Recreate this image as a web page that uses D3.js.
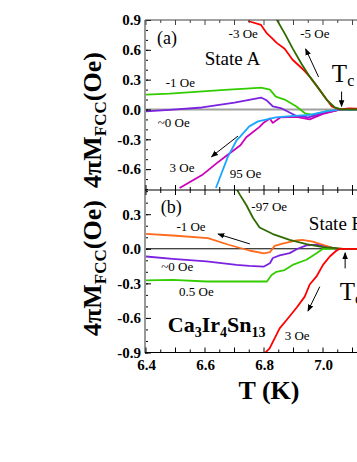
<!DOCTYPE html>
<html>
<head>
<meta charset="utf-8">
<script src="https://cdn.jsdelivr.net/npm/d3@7"></script>
<style>
  body { margin: 0; background: #fff; }
  text { font-family: "Liberation Serif", "Times New Roman", serif; }
</style>
</head>
<body>
<script>
// x axis
const xTicks = [6.4, 6.6, 6.8, 7.0];
const xTickLabels = ["6.4", "6.6", "6.8", "7.0"];

// y axes of the two panels
const yTicksA = [0.9, 0.6, 0.3, 0.0, -0.3, -0.6];
const yTickLabelsA = ["0.9", "0.6", "0.3", "0.0", "-0.3", "-0.6"];
const yTicksB = [0.3, 0.0, -0.3, -0.6, -0.9];
const yTickLabelsB = ["0.3", "0.0", "-0.3", "-0.6", "-0.9"];

// panel (a), State A : [T (K), 4piM (Oe)]
const aMinus1 = [[6.40,0.15],[6.48,0.16],[6.58,0.18],[6.68,0.20],[6.74,0.21],[6.79,0.22],[6.82,0.20],[6.84,0.13],[6.87,0.10],[6.91,0.03],[6.94,-0.04],[6.965,-0.055],[7.01,-0.02],[7.06,-0.005],[7.2,0]];
const aZero = [[6.40,-0.02],[6.48,-0.005],[6.59,0.02],[6.70,0.07],[6.79,0.12],[6.81,0.09],[6.83,0.03],[6.86,0.01],[6.91,-0.065],[6.95,-0.08],[7.00,-0.04],[7.06,0],[7.2,0]];
const aPlus3 = [[6.514,-0.79],[6.59,-0.66],[6.64,-0.54],[6.675,-0.46],[6.72,-0.36],[6.74,-0.28],[6.785,-0.175],[6.80,-0.13],[6.82,-0.09],[6.83,-0.135],[6.855,-0.08],[6.91,-0.075],[6.955,-0.10],[7.00,-0.045],[7.06,0],[7.2,0]];
const aPlus95 = [[6.637,-0.79],[6.677,-0.48],[6.707,-0.31],[6.72,-0.27],[6.75,-0.17],[6.78,-0.12],[6.81,-0.10],[6.84,-0.08],[6.89,-0.067],[6.955,-0.055],[7.01,-0.02],[7.06,0],[7.2,0]];
const aMinus3 = [[6.746,0.89],[6.79,0.85],[6.81,0.765],[6.826,0.72],[6.843,0.67],[6.87,0.61],[6.897,0.50],[6.93,0.41],[6.955,0.33],[6.983,0.22],[7.01,0.11],[7.03,0.03],[7.055,0],[7.09,0.01],[7.2,0]];
const aMinus5 = [[6.838,0.93],[6.87,0.765],[6.898,0.61],[6.927,0.46],[6.955,0.33],[6.983,0.22],[7.012,0.10],[7.04,0.02],[7.062,0],[7.2,0]];

// panel (b), State B
const bMinus1 = [[6.40,0.13],[6.49,0.115],[6.61,0.093],[6.68,0.035],[6.75,-0.015],[6.80,-0.04],[6.82,-0.03],[6.836,0.025],[6.863,0.045],[6.91,0.072],[6.93,0.078],[6.965,0.063],[7.00,0.035],[7.034,0.006],[7.057,0],[7.2,0]];
const bZero = [[6.40,-0.067],[6.49,-0.087],[6.605,-0.11],[6.707,-0.14],[6.75,-0.148],[6.80,-0.154],[6.82,-0.125],[6.83,-0.08],[6.853,-0.058],[6.887,-0.038],[6.914,0],[6.944,0.03],[6.978,0.035],[7.012,0.02],[7.046,0],[7.2,0]];
const bPlus05 = [[6.40,-0.275],[6.49,-0.27],[6.605,-0.284],[6.707,-0.284],[6.81,-0.284],[6.825,-0.23],[6.842,-0.2],[6.87,-0.185],[6.897,-0.14],[6.944,-0.095],[6.978,-0.038],[7.00,0],[7.2,0]];
const bMinus97 = [[6.705,0.53],[6.718,0.47],[6.74,0.38],[6.763,0.267],[6.785,0.185],[6.83,0.128],[6.887,0.078],[6.944,0.041],[7.00,0.015],[7.045,0.005],[7.07,0],[7.2,0]];
const bPlus3 = [[6.797,-0.92],[6.819,-0.865],[6.836,-0.777],[6.853,-0.69],[6.876,-0.62],[6.911,-0.51],[6.938,-0.415],[6.955,-0.31],[6.978,-0.24],[7.00,-0.14],[7.023,-0.067],[7.045,-0.017],[7.057,0],[7.2,0]];

const seriesA = [
  { data: aMinus1, color: "#33cc00" },
  { data: aZero, color: "#7b22e0" },
  { data: aPlus3, color: "#cc00bb" },
  { data: aPlus95, color: "#1aa6ff" },
  { data: aMinus3, color: "#ff0000" },
  { data: aMinus5, color: "#2f6b00" }
];
const seriesB = [
  { data: bPlus05, color: "#33cc00" },
  { data: bZero, color: "#7b22e0" },
  { data: bMinus1, color: "#ff6a1c" },
  { data: bMinus97, color: "#2f6b00" },
  { data: bPlus3, color: "#ff0000" }
];

// annotations: [text, T, value, font size]
const labelsA = [
  ["(a)", 6.437, 0.66, 18], ["State A", 6.599, 0.448, 19],
  ["-3 Oe", 6.680, 0.72, 13], ["-5 Oe", 6.923, 0.72, 13],
  ["-1 Oe", 6.467, 0.226, 13], ["~0 Oe", 6.440, -0.173, 13],
  ["3 Oe", 6.480, -0.626, 13], ["95 Oe", 6.684, -0.689, 13]
];
const labelsB = [
  ["(b)", 6.450, 0.311, 18], ["-97 Oe", 6.757, 0.328, 13],
  ["State B", 6.952, 0.163, 19], ["-1 Oe", 6.503, 0.157, 13],
  ["~0 Oe", 6.452, -0.193, 13], ["0.5 Oe", 6.512, -0.41, 13],
  ["3 Oe", 6.870, -0.792, 13]
];
// arrows: [T0, v0, T1, v1] (head at the end)
const arrowsA = [[6.985, 0.327, 6.941, 0.609], [6.712, -0.267, 6.622, -0.475], [7.063, 0.18, 7.063, 0.03]];
const arrowsB = [[6.752, 0.042, 6.644, 0.128], [6.989, -0.329, 6.949, -0.54], [7.075, -0.17, 7.075, -0.035]];

const svg = d3.select("body").append("svg").attr("width", 357).attr("height", 462);

const x = d3.scaleLinear().domain([6.4, 7.2]).range([146, 382]);
const yA = d3.scaleLinear().domain([-0.81, 0.9]).range([190, 20]);
const yB = d3.scaleLinear().domain([-0.9, 0.51]).range([352.5, 190]);

svg.append("defs").append("marker")
  .attr("id", "head").attr("viewBox", "0 0 10 10")
  .attr("refX", 9).attr("refY", 5)
  .attr("markerWidth", 7).attr("markerHeight", 7)
  .attr("markerUnits", "userSpaceOnUse")
  .attr("orient", "auto")
  .append("path").attr("d", "M0,1 L10,5 L0,9 Z").attr("fill", "#000");

const defs = svg.select("defs");
defs.append("clipPath").attr("id", "clipA").append("rect")
  .attr("x", 146).attr("y", 20).attr("width", 240).attr("height", 170);
defs.append("clipPath").attr("id", "clipB").append("rect")
  .attr("x", 146).attr("y", 190).attr("width", 240).attr("height", 162.5);

function panel(y, series, labels, arrows, clipId, zeroColor, zeroWidth) {
  // zero line
  svg.append("line")
    .attr("x1", x(6.4)).attr("x2", x(7.2))
    .attr("y1", y(0)).attr("y2", y(0))
    .attr("stroke", zeroColor).attr("stroke-width", zeroWidth);

  let line = d3.line().x(d => x(d[0])).y(d => y(d[1]));
  svg.append("g").attr("clip-path", `url(#${clipId})`)
    .selectAll("path").data(series).enter().append("path")
    .attr("d", d => line(d.data))
    .attr("fill", "none")
    .attr("stroke", d => d.color)
    .attr("stroke-width", 1.8)
    .attr("stroke-linejoin", "round");

  svg.append("g").selectAll("text").data(labels).enter().append("text")
    .attr("x", d => x(d[1])).attr("y", d => y(d[2]))
    .attr("font-size", d => d[3] + "px")
    .text(d => d[0]);

  svg.append("g").selectAll("line").data(arrows).enter().append("line")
    .attr("x1", d => x(d[0])).attr("y1", d => y(d[1]))
    .attr("x2", d => x(d[2])).attr("y2", d => y(d[3]))
    .attr("stroke", "#000").attr("stroke-width", 1)
    .attr("marker-end", "url(#head)");
}

panel(yA, seriesA, labelsA, arrowsA, "clipA", "#a0a0a0", 2);
panel(yB, seriesB, labelsB, arrowsB, "clipB", "#000", 1);

// T_c labels
function tc(Tv, v, y) {
  let t = svg.append("text").attr("x", x(Tv)).attr("y", y(v)).attr("font-size", "25px");
  t.append("tspan").text("T");
  t.append("tspan").attr("font-size", "16px").attr("dy", 4).text("c");
}
tc(7.03, 0.277, yA);
tc(7.057, -0.444, yB);

// compound name
let comp = svg.append("text").attr("x", x(6.474)).attr("y", yB(-0.72))
  .attr("font-size", "22px").attr("font-weight", "bold");
[["Ca", 0], ["3", 1], ["Ir", 0], ["4", 1], ["Sn", 0], ["13", 1]].forEach((p, i, arr) => {
  let prev = i > 0 ? arr[i - 1][1] : 0;
  comp.append("tspan")
    .attr("font-size", p[1] ? "14px" : "22px")
    .attr("dy", p[1] - prev ? (p[1] ? 5 : -5) : 0)
    .text(p[0]);
});

// y axes (ticks inward)
function yAxis(y, ticks, labels) {
  let minors = d3.range(Math.round(y.domain()[0] * 10), Math.round(y.domain()[1] * 10) + 1).map(d => d / 10)
    .filter(d => d >= y.domain()[0] && d <= y.domain()[1]);
  svg.append("g").attr("transform", "translate(145,0)")
    .call(d3.axisLeft(y).tickValues(minors).tickSize(-3).tickFormat(""))
    .call(g => g.select(".domain").remove());
  svg.append("g").attr("transform", "translate(145,0)")
    .call(d3.axisLeft(y).tickValues(ticks).tickSize(-6).tickPadding(4)
      .tickFormat((d, i) => labels[i]))
    .call(g => g.select(".domain").remove())
    .call(g => g.selectAll("text")
      .attr("font-family", "Liberation Serif, Times New Roman, serif")
      .attr("font-size", "15px").attr("font-weight", "bold").attr("fill", "#000"));
}
yAxis(yA, yTicksA, yTickLabelsA);
yAxis(yB, yTicksB, yTickLabelsB);

// left axis line (gray)
svg.append("line").attr("x1", 145).attr("x2", 145).attr("y1", 20).attr("y2", 353)
  .attr("stroke", "#999").attr("stroke-width", 2);

// horizontal frame lines with ticks at 0.05 K
const xMinor = d3.range(0, 17).map(i => 6.4 + i * 0.05);
function hFrame(yPos, up, down, color) {
  svg.append("line").attr("x1", 145).attr("x2", 357).attr("y1", yPos).attr("y2", yPos)
    .attr("stroke", color).attr("stroke-width", 1.2);
  svg.append("g").selectAll("line").data(xMinor).enter().append("line")
    .attr("x1", d => x(d)).attr("x2", d => x(d))
    .attr("y1", (d, i) => yPos - up * (i % 2 ? 3 : 5))
    .attr("y2", (d, i) => yPos + down * (i % 2 ? 3 : 5))
    .attr("stroke", color).attr("stroke-width", 1);
}
hFrame(20, 0, 1, "#444");
hFrame(190, 1, 1, "#000");
hFrame(352.5, 1, 0, "#000");

// x tick labels
svg.append("g").attr("transform", "translate(0,352.5)")
  .call(d3.axisBottom(x).tickValues(xTicks).tickSize(0).tickPadding(7)
    .tickFormat((d, i) => xTickLabels[i]))
  .call(g => g.select(".domain").remove())
  .call(g => g.selectAll("text")
    .attr("font-family", "Liberation Serif, Times New Roman, serif")
    .attr("font-size", "15px").attr("font-weight", "bold").attr("fill", "#000"));

// axis titles
svg.append("text").attr("x", 269).attr("y", 399)
  .attr("text-anchor", "middle").attr("font-size", "26px").attr("font-weight", "bold")
  .text("T (K)");

function yTitle(cy) {
  let t = svg.append("text").attr("transform", `translate(101,${cy}) rotate(-90)`)
    .attr("text-anchor", "middle").attr("font-size", "26px").attr("font-weight", "bold");
  t.append("tspan").text("4πM");
  t.append("tspan").attr("font-size", "17px").attr("dy", 5).text("FCC");
  t.append("tspan").attr("dy", -5).text("(Oe)");
}
yTitle(120);
yTitle(268);
</script>
</body>
</html>
